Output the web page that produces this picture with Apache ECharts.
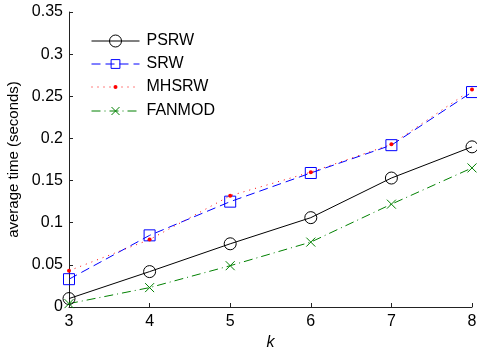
<!DOCTYPE html>
<html lang="en">
<head>
    <meta charset="UTF-8">
    <title>average time</title>
    <style>
        html, body { margin: 0; padding: 0; background: #fff; }
        #chart { width: 477px; height: 352px; }
    </style>
</head>
<body>
    <div id="chart"></div>
    <script src="https://cdn.jsdelivr.net/npm/echarts@6/dist/echarts.min.js"></script>
    <script>
        // k values and the timing per method
        var kValues = [3, 4, 5, 6, 7, 8];
        var psrw    = [0.010, 0.042, 0.075, 0.106, 0.153, 0.190];
        var srw     = [0.033, 0.085, 0.125, 0.159, 0.192, 0.255];
        var mhsrw   = [0.043, 0.080, 0.132, 0.160, 0.193, 0.258];
        var fanmod  = [0.004, 0.023, 0.049, 0.077, 0.122, 0.165];
        var names   = ['PSRW', 'SRW', 'MHSRW', 'FANMOD'];

        function pairs(ys) {
            return kValues.map(function (k, i) { return [k, ys[i]]; });
        }

        var font = 'Liberation Sans';
        var crossPath = 'path://M0,0L10,10M10,0L0,10';

        // one legend per entry so each marker can keep its own size
        // (legend marker = 0.8 * itemHeight)
        var legendHeights = [15, 11, 5, 10];
        var legendRows = [42, 65, 88, 112];
        var legends = names.map(function (n, i) {
            var h = legendHeights[i];
            return {
                data: [n],
                left: 86,
                top: legendRows[i] - Math.max(h, 18) / 2 - 5,
                itemWidth: 48,
                itemHeight: h,
                lineStyle: { width: 1 },
                itemStyle: { borderWidth: i === 2 ? 0 : 1 },
                textStyle: { fontFamily: font, fontSize: 16, color: '#000', padding: [0, 0, 0, 2] }
            };
        });

        var myChart = echarts.init(document.getElementById('chart'));
        var option = {
            animation: false,
            textStyle: { fontFamily: font },
            grid: { left: 69, right: 5, top: 12, bottom: 45, outerBoundsMode: 'none', containLabel: false },
            legend: legends,
            xAxis: {
                type: 'value',
                min: 3, max: 8, interval: 1,
                name: 'k',
                nameLocation: 'middle',
                nameGap: 28,
                nameTextStyle: { fontFamily: font, fontSize: 16, fontStyle: 'italic', color: '#000' },
                axisLine: { onZero: false, lineStyle: { color: '#222', width: 1 } },
                axisTick: { inside: true, length: 4, lineStyle: { color: '#222' } },
                axisLabel: { fontFamily: font, fontSize: 16, color: '#000', margin: 7 },
                splitLine: { show: false }
            },
            yAxis: {
                type: 'value',
                min: 0, max: 0.35, interval: 0.05,
                name: 'average time (seconds)',
                nameLocation: 'middle',
                nameGap: 44,
                nameTextStyle: { fontFamily: font, fontSize: 15, color: '#000' },
                axisLine: { show: true, lineStyle: { color: '#222', width: 1 } },
                axisTick: { show: true, inside: true, length: 4, lineStyle: { color: '#222' } },
                axisLabel: {
                    fontFamily: font, fontSize: 16, color: '#000', margin: 6,
                    formatter: function (v) { return String(+v.toFixed(2)); }
                },
                splitLine: { show: false }
            },
            series: [
                {
                    name: 'PSRW', type: 'line', data: pairs(psrw),
                    symbol: 'circle', symbolSize: 12,
                    lineStyle: { color: '#000', width: 1 },
                    itemStyle: { color: 'transparent', borderColor: '#000', borderWidth: 1 }
                },
                {
                    name: 'SRW', type: 'line', data: pairs(srw),
                    symbol: 'rect', symbolSize: 11,
                    lineStyle: { color: '#0000ff', width: 1, type: [9, 5] },
                    itemStyle: { color: 'transparent', borderColor: '#0000ff', borderWidth: 1 }
                },
                {
                    name: 'MHSRW', type: 'line', data: pairs(mhsrw),
                    symbol: 'circle', symbolSize: 4,
                    lineStyle: { color: '#ff0000', width: 1, type: [1, 5] },
                    itemStyle: { color: '#ff0000', borderWidth: 0 }
                },
                {
                    name: 'FANMOD', type: 'line', data: pairs(fanmod),
                    symbol: crossPath, symbolSize: 9,
                    lineStyle: { color: '#008000', width: 1, type: [9, 4, 1, 4] },
                    itemStyle: { color: 'transparent', borderColor: '#008000', borderWidth: 1 }
                }
            ]
        };
        myChart.setOption(option);
    </script>
</body>
</html>
